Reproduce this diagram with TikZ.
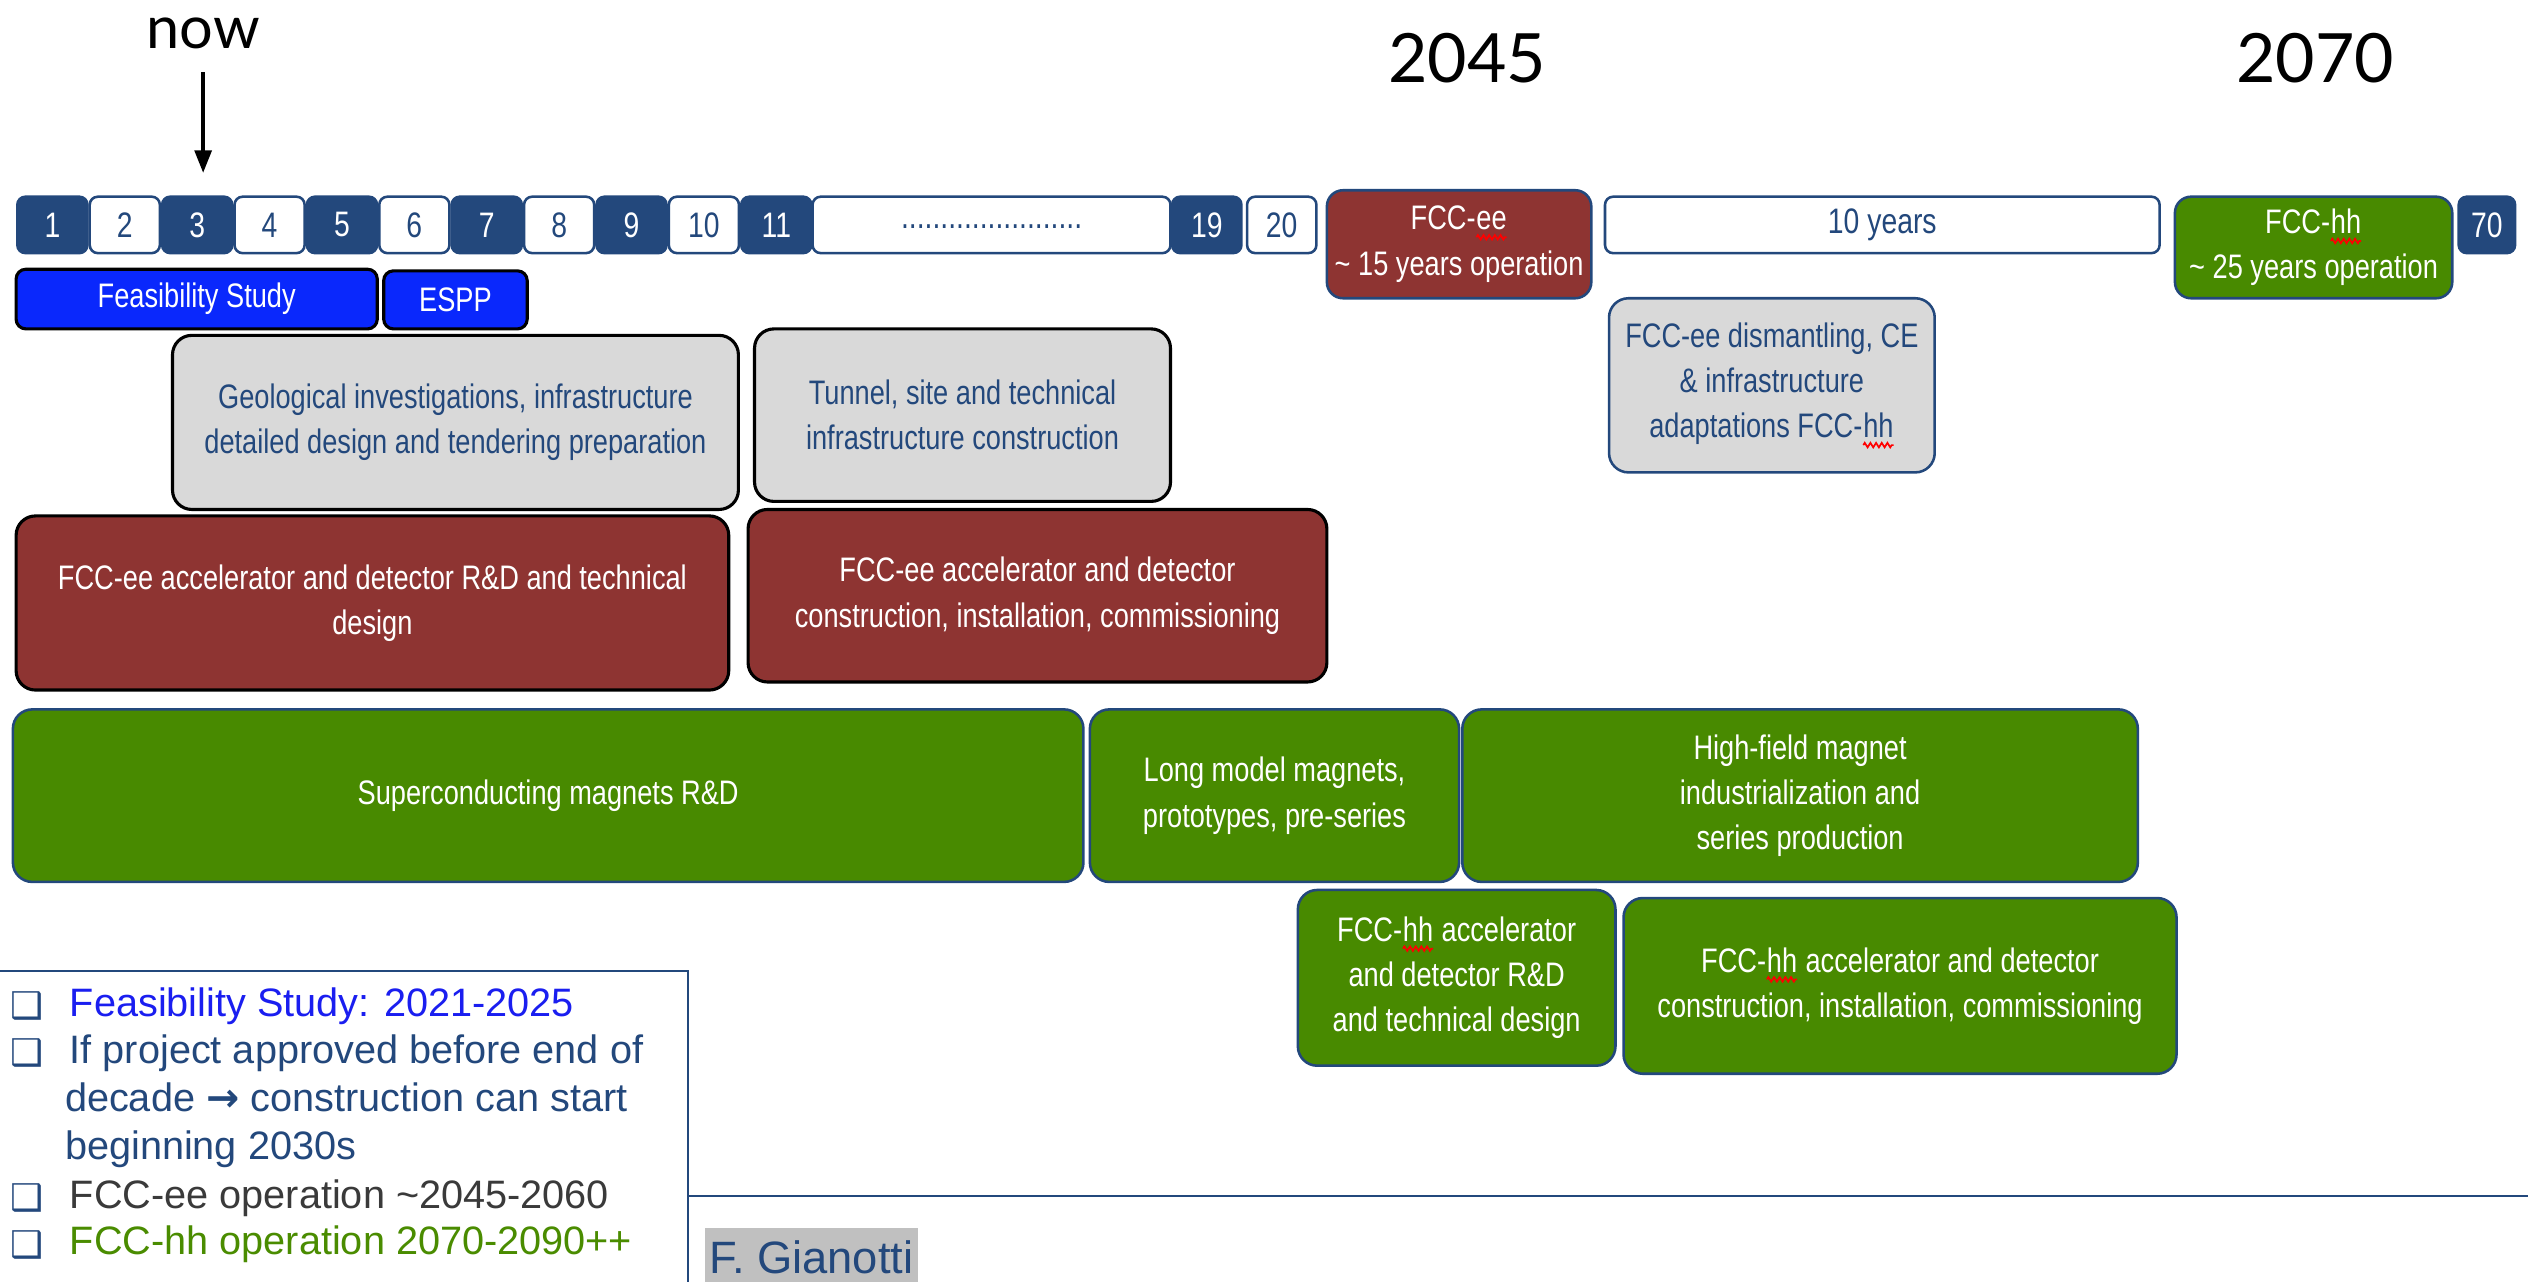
\documentclass[tikz,border=0pt]{standalone}
\usepackage{fontspec}
\setmainfont{Liberation Sans}
\newfontfamily\narrow[FakeStretch=0.8]{Liberation Sans}
\newfontfamily\gill{Lato}
\newfontfamily\dejavu{DejaVu Sans}
\usetikzlibrary{arrows.meta,decorations.pathmorphing}

\definecolor{navy}{RGB}{35,72,124}
\definecolor{fsblue}{RGB}{10,40,252}
\definecolor{eered}{RGB}{142,52,50}
\definecolor{hhgreen}{RGB}{72,138,0}
\definecolor{infragray}{RGB}{217,217,217}
\definecolor{txtblue}{RGB}{26,30,240}
\definecolor{txtgray}{RGB}{58,58,58}
\definecolor{txtgreen}{RGB}{74,140,0}
\definecolor{namegray}{RGB}{192,192,192}

% red spell-check wave under a word
\newcommand{\squig}[1]{\tikz[baseline=(sq.base)]{\node[draw=none,fill=none,inner sep=0pt,outer sep=0pt,minimum width=0pt,minimum height=0pt,sharp corners,anchor=base] (sq) at (0,0) {#1};\draw[red,line width=0.6pt,sharp corners,decorate,decoration={zigzag,amplitude=0.8pt,segment length=2pt}] ([yshift=-2.6pt]sq.base west) -- ([yshift=-2.6pt]sq.base east);}}

\begin{document}
\begin{tikzpicture}[x=0.2mm,y=-0.2mm,
  sz/.style 2 args={minimum width=#1*0.2mm,minimum height=#2*0.2mm},
  yr/.style={draw=navy,line width=0.9pt,rounded corners=1mm,inner sep=0pt,fill=yrfill,text=yrtext,font=\narrow\fontsize{12.5}{15}\selectfont},
  phase/.style={line width=1.1pt,rounded corners=2.4mm,align=center,inner sep=2pt,font=\narrow\fontsize{12}{16}\selectfont},
  redbox/.style={phase,draw=black,fill=eered,text=white},
  graybox/.style={phase,draw=black,fill=infragray,text=navy},
  greenbox/.style={phase,draw=navy,line width=0.9pt,fill=hhgreen,text=white},
  bluebox/.style={phase,draw=black,fill=fsblue,text=white,rounded corners=1.2mm},
  item/.style={anchor=west,inner sep=0pt,align=left,font=\fontsize{14}{17}\selectfont}]
\useasboundingbox (0,0) rectangle (1568,795);

% years on top
\node[font=\gill\fontsize{21}{21}\selectfont] (now) at (126,21) {now};
\node[font=\gill\fontsize{24}{24}\selectfont] (y2045) at (910,36) {2045};
\node[font=\gill\fontsize{24}{24}\selectfont] (y2070) at (1436,36) {2070};

% time line
\foreach \n in {1,...,11} {
	\ifodd\n \colorlet{yrfill}{navy}\colorlet{yrtext}{white}\else \colorlet{yrfill}{white}\colorlet{yrtext}{navy}\fi
	\node[yr,sz={43.5}{35}] (y\n) at ({32.5+44.9*(\n-1)},139.5) {\n};
}
\colorlet{yrfill}{white}\colorlet{yrtext}{navy}
\node[yr,sz={222}{35}] (ydots) at (615,139.5) {\raisebox{-0.8mm}{.......................}};
\node[yr,sz={344}{35}] (ten) at (1167.5,139.5) {10 years};
\node[yr,sz={43}{35}] (y20) at (795,139.5) {20};
\colorlet{yrfill}{navy}\colorlet{yrtext}{white}
\node[yr,sz={43}{35}] (y19) at (748.5,139.5) {19};
\node[yr,sz={35}{35}] (y70) at (1542.5,139.5) {70};
\node[phase,draw=navy,line width=0.9pt,fill=eered,text=white,sz={164}{67},rounded corners=2mm] (eeop) at (905,151.5) {FCC-\squig{ee}\\\textasciitilde{} 15 years operation};
\node[phase,draw=navy,line width=0.9pt,fill=hhgreen,text=white,sz={172}{63},rounded corners=2mm] (hhop) at (1435,153.5) {FCC-\squig{hh}\\\textasciitilde{} 25 years operation};

\draw[line width=1.2pt,shorten <=1.6mm,shorten >=2.8mm,-{Triangle[length=2.8mm,width=2.1mm]}] (now) -- (now |- y3.north);

% phases
\node[bluebox,sz={224}{37}] (fs) at (122,185.5) {Feasibility Study};
\node[bluebox,sz={89}{36}] (espp) at (282.5,186) {ESPP};

\node[graybox,sz={351}{108}] (geo) at (282.5,262) {Geological investigations, infrastructure\\detailed design and tendering preparation};
\node[graybox,sz={258}{107}] (tunnel) at (597,257.5) {Tunnel, site and technical\\infrastructure construction};
\node[graybox,draw=navy,line width=0.9pt,sz={202}{108}] (dism) at (1099,239) {FCC-ee dismantling, CE\\\& infrastructure\\adaptations FCC-\squig{hh}};

\node[redbox,sz={442}{108}] (eerd) at (231,374) {FCC-ee accelerator and detector R\&D and technical\\design};
\node[redbox,sz={359}{107}] (eecon) at (643.5,369.5) {FCC-ee accelerator and detector\\construction, installation, commissioning};

\node[greenbox,sz={664}{107}] (scmag) at (340,493.5) {Superconducting magnets R\&D};
\node[greenbox,sz={229}{107}] (longmod) at (790.5,493.5) {Long model magnets,\\prototypes, pre-series};
\node[greenbox,sz={419}{107}] (hfmag) at (1116.5,493.5) {High-field magnet\\industrialization and\\series production};
\node[greenbox,sz={197}{109}] (hhrd) at (903.5,606.5) {FCC-\squig{hh} accelerator\\and detector R\&D\\and technical design};
\node[greenbox,sz={343}{109}] (hhcon) at (1178.5,611.5) {FCC-\squig{hh} accelerator and detector\\construction, installation, commissioning};

% summary box
\fill[white] (0,602) rectangle (427,800);
\draw[navy,line width=0.7pt] (0,602) -- (427,602) -- (427,800);
\draw[navy,line width=0.7pt] (427,742) -- (1568,742);
\foreach \y [count=\k] in {624,653,743,772}
	\node[text=navy,inner sep=0pt,font=\dejavu\bfseries\fontsize{13}{13}\selectfont] (b\k) at (17,\y) {❑};
\node[item,text=txtblue] (l1) at (43,624) {Feasibility Study: 2021-2025};
\node[item,text=navy] (l2) at (40,683) {\hspace*{0.6mm}If project approved before end of\\decade {\dejavu\bfseries→} construction can start\\beginning 2030s};
\node[item,text=txtgray] (l3) at (43,743) {FCC-ee operation \textasciitilde2045-2060};
\node[item,text=txtgreen] (l4) at (43,772) {FCC-hh operation 2070-2090++};

\node[anchor=west,fill=namegray,text=navy,inner xsep=1.5pt,minimum height=7.4mm,font=\fontsize{16}{16}\selectfont] (author) at (437,780) {F. Gianotti};
\end{tikzpicture}
\end{document}
